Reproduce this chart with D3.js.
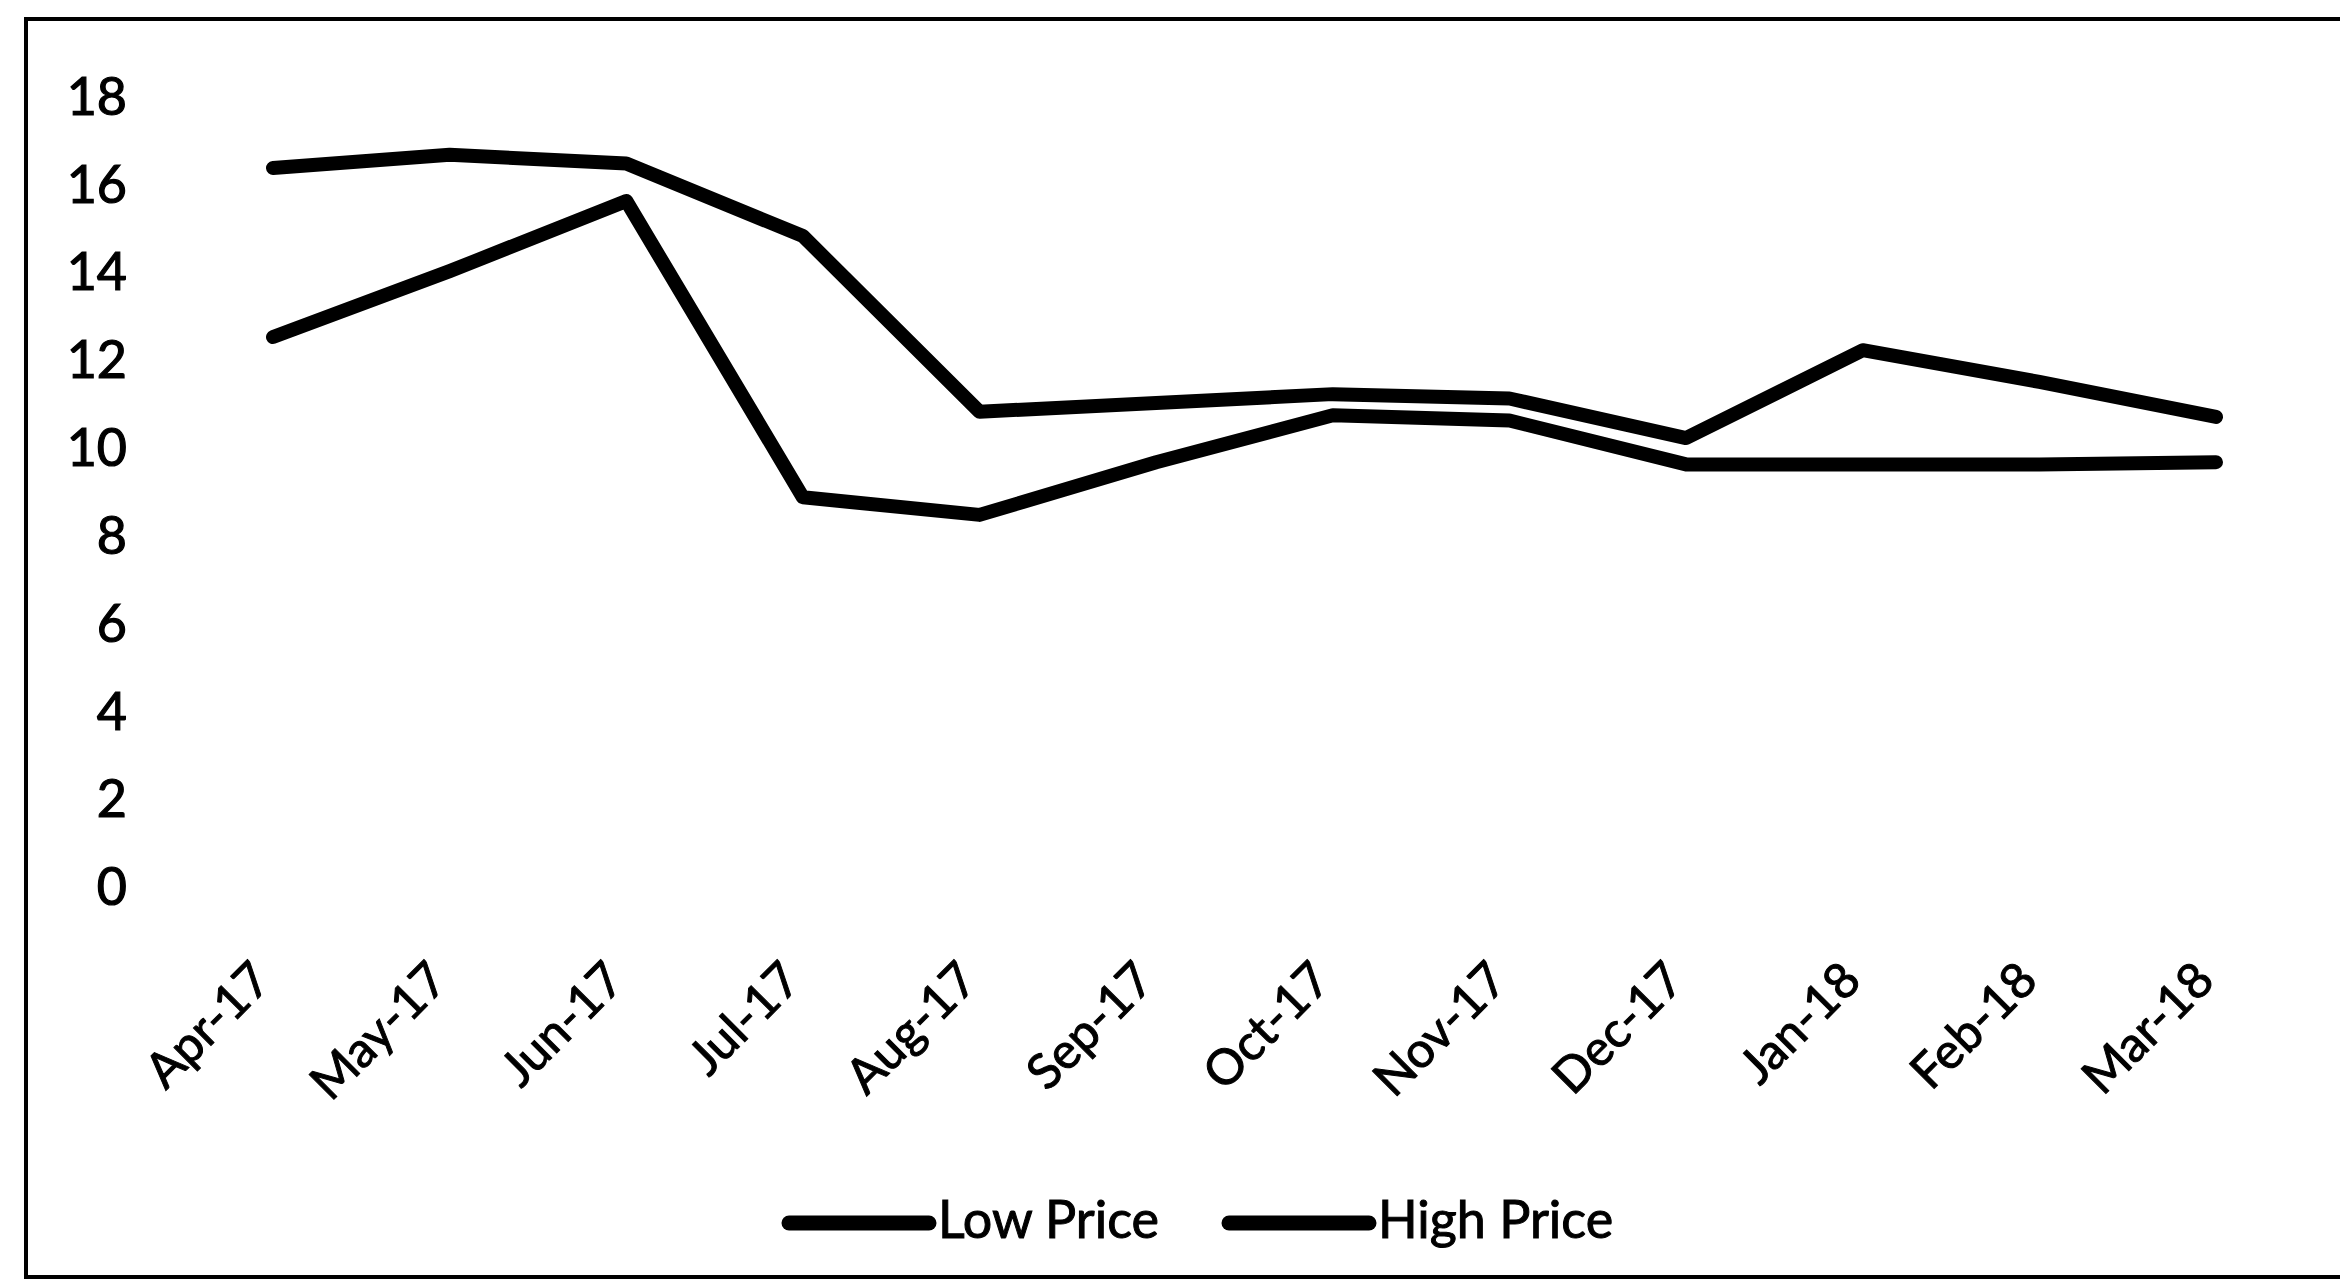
<!DOCTYPE html>
<html>
<head>
<meta charset="utf-8">
<script src="https://cdn.jsdelivr.net/npm/d3@7"></script>
<style>
  html, body { margin: 0; padding: 0; background: #fff; }
  svg { display: block; }
  text { font-family: Lato, "Open Sans", sans-serif; fill: #000; }
</style>
</head>
<body>
<svg id="chart"></svg>
<script>
// months on the x axis
var months = ['Apr-17', 'May-17', 'Jun-17', 'Jul-17', 'Aug-17', 'Sep-17',
              'Oct-17', 'Nov-17', 'Dec-17', 'Jan-18', 'Feb-18', 'Mar-18'];

// series
var lowPrice  = [12.5, 14.0, 15.6, 8.85, 8.45, 9.65, 10.72, 10.6, 9.6, 9.6, 9.6, 9.65];
var highPrice = [16.35, 16.65, 16.45, 14.8, 10.8, 11.0, 11.2, 11.1, 10.2, 12.2, 11.48, 10.68];

var yTicks = [0, 2, 4, 6, 8, 10, 12, 14, 16, 18];
var seriesNames = ['Low Price', 'High Price'];

var width = 2340,
    height = 1281;

var svg = d3.select('#chart')
    .attr('width', width)
    .attr('height', height);

svg.append('rect')
    .attr('width', width)
    .attr('height', height)
    .attr('fill', '#fff');

// outer frame
svg.append('rect')
    .attr('x', 26)
    .attr('y', 19)
    .attr('width', width)
    .attr('height', 1258)
    .attr('fill', 'none')
    .attr('stroke', '#000')
    .attr('stroke-width', 4);

var x = d3.scalePoint()
    .domain(months)
    .range([273, 2216]);

var y = d3.scaleLinear()
    .domain([0, 18])
    .range([886, 95.5]);

// y axis, labels only
var yAxis = svg.append('g')
    .attr('transform', 'translate(127,0)')
    .call(d3.axisLeft(y).tickValues(yTicks).tickSize(0).tickPadding(0));
yAxis.select('.domain').remove();
yAxis.selectAll('text')
    .attr('font-family', 'Lato, sans-serif')
    .attr('font-size', 52)
    .attr('fill', '#000')
    .attr('stroke', '#000')
    .attr('stroke-width', 1.2)
    .attr('dy', '0.36em');

// x axis labels, rotated
var xAxis = svg.append('g')
    .attr('transform', 'translate(0,983)')
    .call(d3.axisBottom(x).tickSize(0).tickPadding(0));
xAxis.select('.domain').remove();
xAxis.selectAll('text')
    .attr('font-family', 'Lato, sans-serif')
    .attr('font-size', 49)
    .attr('fill', '#000')
    .attr('stroke', '#000')
    .attr('stroke-width', 1)
    .attr('y', 0)
    .attr('dy', 0)
    .attr('text-anchor', 'end')
    .attr('transform', 'rotate(-45)');

var line = d3.line()
    .x(function(d, i) { return x(months[i]); })
    .y(function(d) { return y(d); });

[lowPrice, highPrice].forEach(function(s) {
    svg.append('path')
        .datum(s)
        .attr('d', line)
        .attr('fill', 'none')
        .attr('stroke', '#000')
        .attr('stroke-width', 14)
        .attr('stroke-linejoin', 'round')
        .attr('stroke-linecap', 'round');
});

// legend
var legendX = [789, 1229];
var legend = svg.append('g');
seriesNames.forEach(function(name, i) {
    legend.append('line')
        .attr('x1', legendX[i])
        .attr('x2', legendX[i] + 140)
        .attr('y1', 1223)
        .attr('y2', 1223)
        .attr('stroke', '#000')
        .attr('stroke-width', 15)
        .attr('stroke-linecap', 'round');
    legend.append('text')
        .attr('x', legendX[i] + 149)
        .attr('y', 1238)
        .attr('font-size', 52)
        .attr('stroke', '#000')
        .attr('stroke-width', 1)
        .text(name);
});
</script>
</body>
</html>
